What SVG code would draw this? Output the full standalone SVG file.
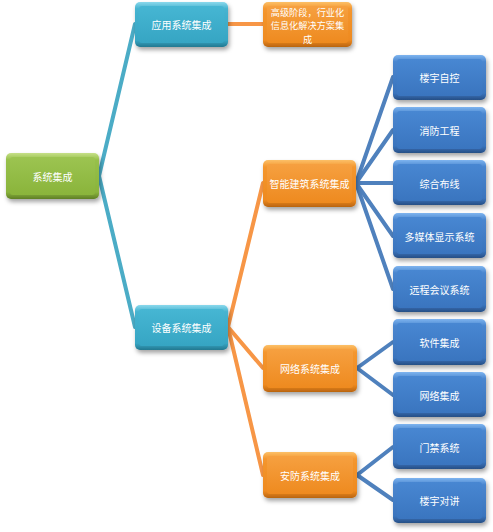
<svg xmlns="http://www.w3.org/2000/svg" width="493" height="532" viewBox="0 0 493 532">
<defs>
<filter id="sh" x="-20%" y="-20%" width="150%" height="160%"><feDropShadow dx="1.5" dy="3" stdDeviation="2" flood-color="#000" flood-opacity="0.35"/></filter>
<linearGradient id="gO" x1="0" y1="0" x2="0" y2="1"><stop offset="0" stop-color="#fcc068"/><stop offset="0.15" stop-color="#f4962e"/><stop offset="0.85" stop-color="#ee8a20"/><stop offset="1" stop-color="#b9640f"/></linearGradient>
<linearGradient id="fO" x1="0" y1="0" x2="0" y2="1"><stop offset="0" stop-color="#f6a040"/><stop offset="1" stop-color="#ee8a1f"/></linearGradient>
<linearGradient id="gB" x1="0" y1="0" x2="0" y2="1"><stop offset="0" stop-color="#7eb4ef"/><stop offset="0.15" stop-color="#4a86cf"/><stop offset="0.85" stop-color="#3a74bd"/><stop offset="1" stop-color="#274f85"/></linearGradient>
<linearGradient id="fB" x1="0" y1="0" x2="0" y2="1"><stop offset="0" stop-color="#4887d2"/><stop offset="1" stop-color="#3a75bf"/></linearGradient>
<linearGradient id="gT" x1="0" y1="0" x2="0" y2="1"><stop offset="0" stop-color="#8ad8ec"/><stop offset="0.15" stop-color="#45b3d0"/><stop offset="0.85" stop-color="#37a6c4"/><stop offset="1" stop-color="#237890"/></linearGradient>
<linearGradient id="fT" x1="0" y1="0" x2="0" y2="1"><stop offset="0" stop-color="#46b6d3"/><stop offset="1" stop-color="#36a5c3"/></linearGradient>
<linearGradient id="gG" x1="0" y1="0" x2="0" y2="1"><stop offset="0" stop-color="#c6e088"/><stop offset="0.15" stop-color="#97c04a"/><stop offset="0.85" stop-color="#8ab43c"/><stop offset="1" stop-color="#5f7f24"/></linearGradient>
<linearGradient id="fG" x1="0" y1="0" x2="0" y2="1"><stop offset="0" stop-color="#9cc451"/><stop offset="1" stop-color="#8ab43b"/></linearGradient>
</defs>
<style>
.c{fill:none;stroke-width:4;stroke-linecap:round}
.ct{stroke:#4bacc6}.co{stroke:#f79646}.cb{stroke:#4f81bd}
text{font-family:"Noto Sans CJK SC","Noto Sans",sans-serif;font-size:10px;fill:#fff;text-anchor:middle;dominant-baseline:central}
text.s{font-size:9.2px}
.O .o{fill:url(#gO)}.O .i{fill:url(#fO)}
.B .o{fill:url(#gB)}.B .i{fill:url(#fB)}
.T .o{fill:url(#gT)}.T .i{fill:url(#fT)}
.G .o{fill:url(#gG)}.G .i{fill:url(#fG)}
.o{filter:url(#sh)}
</style>
<g id="connectors">
<line class="c ct" x1="99" y1="176" x2="135" y2="24"/>
<line class="c ct" x1="99" y1="176" x2="135" y2="327"/>
<line class="c co" x1="228" y1="24" x2="263" y2="24"/>
<line class="c co" x1="228" y1="327" x2="263" y2="183"/>
<line class="c co" x1="228" y1="327" x2="263" y2="368"/>
<line class="c co" x1="228" y1="327" x2="263" y2="475"/>
<line class="c cb" x1="356" y1="183" x2="393" y2="77"/>
<line class="c cb" x1="356" y1="183" x2="393" y2="130"/>
<line class="c cb" x1="356" y1="183" x2="393" y2="183"/>
<line class="c cb" x1="356" y1="183" x2="393" y2="236"/>
<line class="c cb" x1="356" y1="183" x2="393" y2="289"/>
<line class="c cb" x1="357" y1="368" x2="393" y2="342"/>
<line class="c cb" x1="357" y1="368" x2="393" y2="395"/>
<line class="c cb" x1="357" y1="475" x2="393" y2="447"/>
<line class="c cb" x1="357" y1="475" x2="393" y2="500"/>
</g>
<g id="n-root" class="G"><rect class="o" x="6" y="153" width="93" height="46" rx="5"/><rect class="i" x="10" y="157" width="85" height="38" rx="3"/><text x="52.5" y="176">系统集成</text></g>
<g id="n-app" class="T"><rect class="o" x="135" y="2" width="93" height="45" rx="5"/><rect class="i" x="139" y="6" width="85" height="37" rx="3"/><text x="181.5" y="24.5">应用系统集成</text></g>
<g id="n-adv" class="O"><rect class="o" x="263" y="2" width="89" height="45" rx="5"/><rect class="i" x="267" y="6" width="81" height="37" rx="3"/><text class="s" x="307.5" y="11.5">高级阶段，行业化</text><text class="s" x="307.5" y="25">信息化解决方案集</text><text class="s" x="307.5" y="38.5">成</text></g>
<g id="n-dev" class="T"><rect class="o" x="135" y="305" width="93" height="45" rx="5"/><rect class="i" x="139" y="309" width="85" height="37" rx="3"/><text x="181.5" y="327.5">设备系统集成</text></g>
<g id="n-ib" class="O"><rect class="o" x="263" y="160" width="93" height="47" rx="5"/><rect class="i" x="267" y="164" width="85" height="39" rx="3"/><text x="309.5" y="183.5">智能建筑系统集成</text></g>
<g id="n-net" class="O"><rect class="o" x="263" y="345" width="94" height="47" rx="5"/><rect class="i" x="267" y="349" width="86" height="39" rx="3"/><text x="310" y="368.5">网络系统集成</text></g>
<g id="n-sec" class="O"><rect class="o" x="263" y="452" width="94" height="46" rx="5"/><rect class="i" x="267" y="456" width="86" height="38" rx="3"/><text x="310" y="475">安防系统集成</text></g>
<g id="n-l1" class="B"><rect class="o" x="393" y="55" width="93" height="45" rx="5"/><rect class="i" x="397" y="59" width="85" height="37" rx="3"/><text x="439.5" y="77.5">楼宇自控</text></g>
<g id="n-l2" class="B"><rect class="o" x="393" y="107" width="93" height="46" rx="5"/><rect class="i" x="397" y="111" width="85" height="38" rx="3"/><text x="439.5" y="130">消防工程</text></g>
<g id="n-l3" class="B"><rect class="o" x="393" y="160" width="93" height="45" rx="5"/><rect class="i" x="397" y="164" width="85" height="37" rx="3"/><text x="439.5" y="183">综合布线</text></g>
<g id="n-l4" class="B"><rect class="o" x="393" y="213" width="93" height="45" rx="5"/><rect class="i" x="397" y="217" width="85" height="37" rx="3"/><text x="439.5" y="236">多媒体显示系统</text></g>
<g id="n-l5" class="B"><rect class="o" x="393" y="266" width="93" height="46" rx="5"/><rect class="i" x="397" y="270" width="85" height="38" rx="3"/><text x="439.5" y="289">远程会议系统</text></g>
<g id="n-l6" class="B"><rect class="o" x="393" y="319" width="93" height="46" rx="5"/><rect class="i" x="397" y="323" width="85" height="38" rx="3"/><text x="439.5" y="342">软件集成</text></g>
<g id="n-l7" class="B"><rect class="o" x="393" y="372" width="93" height="45" rx="5"/><rect class="i" x="397" y="376" width="85" height="37" rx="3"/><text x="439.5" y="395">网络集成</text></g>
<g id="n-l8" class="B"><rect class="o" x="393" y="424" width="93" height="45" rx="5"/><rect class="i" x="397" y="428" width="85" height="37" rx="3"/><text x="439.5" y="447">门禁系统</text></g>
<g id="n-l9" class="B"><rect class="o" x="393" y="478" width="93" height="45" rx="5"/><rect class="i" x="397" y="482" width="85" height="37" rx="3"/><text x="439.5" y="500.5">楼宇对讲</text></g>
</svg>
